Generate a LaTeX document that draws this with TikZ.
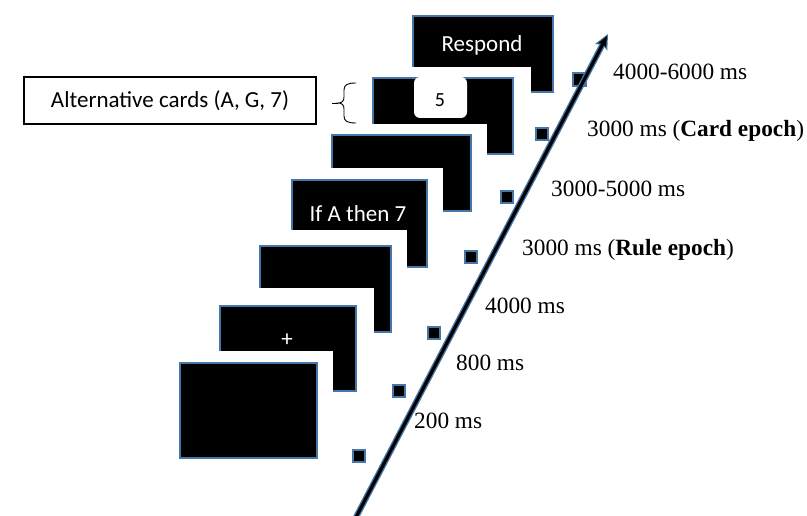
\documentclass[tikz,border=0pt]{standalone}
\usepackage{fontspec}
\setmainfont{Liberation Serif}
\newfontfamily\carlfont{Carlito}
\usetikzlibrary{arrows.meta}
\definecolor{cardblue}{RGB}{70,119,168}
\tikzset{
  card/.style={draw=cardblue, line width=2.2pt, fill=black},
  padding/.style={fill=white},
  marker/.style={draw=cardblue, line width=1.7pt, fill=black, minimum size=12.5pt, inner sep=0pt},
  timelbl/.style={anchor=base west, inner sep=0pt, font=\fontsize{23.3}{28}\selectfont},
  cardtext/.style={text=white, inner sep=0pt, font=\carlfont\fontsize{23}{27}\selectfont},
}
% #1 x1, #2 y1, #3 x2, #4 y2, #5 pad top, #6 pad right
\newcommand\myscreen[6]{%
  \fill[padding] ({#1-8},{#2-#5}) rectangle ({#3+#6},{#4+8});
  \draw[card] ({#1+1},{#2+1}) rectangle ({#3-1},{#4-1});
}
\begin{document}
\begin{tikzpicture}[x=1pt,y=-1pt]
\useasboundingbox (0,0) rectangle (807,516);
\clip (0,0) rectangle (807,516);
\fill[white] (0,0) rectangle (807,516);

% screens, back to front
\myscreen{412}{15}{554}{93}{0}{0}
\myscreen{372}{77}{514}{155}{10}{17}
\myscreen{331}{134}{472}{212}{10}{15}
\myscreen{291}{179}{428}{268}{11}{15}
\myscreen{259}{245}{392}{333}{15}{15}
\myscreen{219}{305}{357}{392}{17}{17}
\myscreen{179}{362}{318}{459}{11}{15}

% screen contents
\node[cardtext, anchor=base] (respond) at (482,52) {Respond};
\node[fill=white, rounded corners=6pt, minimum width=53pt, minimum height=41pt, inner sep=0pt] (fivebox) at (440.5,97.5) {};
\node[inner sep=0pt, font=\carlfont\fontsize{20}{24}\selectfont] (five) at (440,100.5) {5};
\node[cardtext, anchor=base] (ifrule) at (358,222) {If A then 7};
\node[cardtext] (fix) at (287,340) {+};

% alternative cards box and brace
\node[draw, line width=1.2pt, minimum width=292pt, minimum height=47pt, inner sep=0pt] (altbox) at (170,100.5) {};
\node[anchor=base, inner sep=0pt, font=\carlfont\fontsize{23}{27}\selectfont] (alttext) at (170,108) {Alternative cards (A, G, 7)};
\coordinate (bracetop) at (356,83);
\coordinate (bracebot) at (356,123);
\coordinate (bracetip) at (338,103);
\coordinate (bracestub) at (332,103);
\draw[line width=0.9pt] (bracetop) .. controls (347,83) and (344,85) .. (344,90) -- (344,97)
  .. controls (344,101) and (342,103) .. (bracetip)
  .. controls (342,103) and (344,105) .. (344,109) -- (344,116)
  .. controls (344,121) and (347,123) .. (bracebot);
\draw[line width=0.9pt] (bracestub) -- (bracetip);

% event markers
\node[marker] (m1) at (359,456) {};
\node[marker] (m2) at (399,391) {};
\node[marker] (m3) at (434,333) {};
\node[marker] (m4) at (471,257) {};
\node[marker] (m5) at (507,197) {};
\node[marker] (m6) at (542,134) {};
\node[marker] (m7) at (579.5,79.5) {};

% time arrow
\coordinate (arrowstart) at (353,523);
\coordinate (arrowtip) at (608,34);
\draw[cardblue, line width=6pt, -{Stealth[length=15pt,width=14pt,inset=3pt,line width=0pt]}] (arrowstart) -- (arrowtip);
\draw[black, line width=3.2pt, shorten >=2.4pt, -{Stealth[length=10.5pt,width=9pt,inset=2pt,line width=0pt]}] (arrowstart) -- (arrowtip);

% time labels
\node[timelbl] (t1) at (613,80) {4000-6000 ms};
\node[timelbl] (t2) at (587,137) {3000 ms (\textbf{Card epoch})};
\node[timelbl] (t3) at (551,197) {3000-5000 ms};
\node[timelbl] (t4) at (522,255) {3000 ms (\textbf{Rule epoch})};
\node[timelbl] (t5) at (485,313) {4000 ms};
\node[timelbl] (t6) at (456,370) {800 ms};
\node[timelbl] (t7) at (414,428) {200 ms};
\end{tikzpicture}
\end{document}
